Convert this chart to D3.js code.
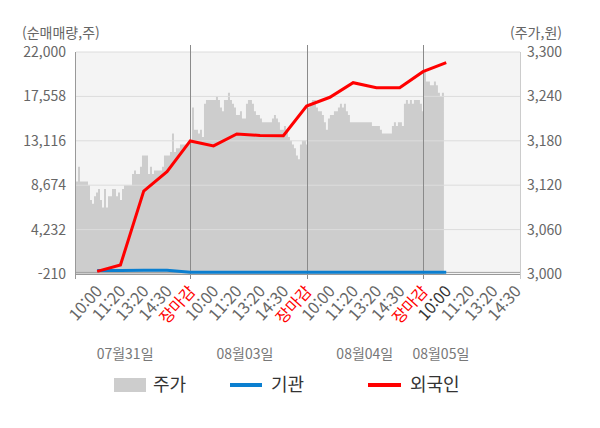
<!DOCTYPE html>
<html lang="ko">
<head>
  <meta charset="UTF-8">
  <title>순매매량 차트</title>
  <script src="https://d3js.org/d3.v7.min.js"></script>
  <style>
    body { margin: 0; background: #fff; }
    text { font-family: "Noto Sans CJK KR", "Noto Sans", sans-serif; }
    .axis-label { fill: #666; font-size: 14px; }
  </style>
</head>
<body>
  <svg width="600" height="428"></svg>

  <script>
    // x axis labels (one per slot)
    const xLabels = ['10:00','11:20','13:20','14:30','장마감',
                     '10:00','11:20','13:20','14:30','장마감',
                     '10:00','11:20','13:20','14:30','장마감',
                     '10:00','11:20','13:20','14:30'];
    const dates = ['07월31일', '08월03일', '08월04일', '08월05일'];
    const dateSlots = [1.2, 6.35, 11.5, 14.77];
    const daySeparators = [4, 9, 14];

    const leftTicks = [-210, 4232, 8674, 13116, 17558, 22000];
    const rightTicks = [3000, 3060, 3120, 3180, 3240, 3300];

    // 외국인 / 기관 net volume, one value per slot
    const foreign = [50, 690, 8090, 10020, 13100, 12600, 13800, 13650, 13620,
                     16600, 17470, 18930, 18430, 18430, 20030, 20930];
    const institution = [150, 150, 160, 160, -30, -30, -30, -30, -30,
                         -30, -30, -30, -30, -30, -30, -30];

    // 주가 (price), evenly sampled over each day
    const priceDay1 = [3125, 3145, 3125, 3125, 3125, 3125, 3120, 3100, 3095, 3105,
                       3110, 3115, 3100, 3090, 3115, 3090, 3105, 3105, 3115, 3115,
                       3105, 3110, 3100, 3115, 3120, 3120, 3120, 3120, 3135, 3140,
                       3135, 3135, 3145, 3160, 3160, 3160, 3135, 3145, 3135, 3140,
                       3140, 3140, 3140, 3145, 3160, 3160, 3160, 3165, 3190, 3165,
                       3170, 3170, 3175, 3175, 3175, 3175, 3180, 3180];
    const priceDay2 = [3225, 3195, 3195, 3190, 3195, 3185, 3230, 3235, 3235, 3235,
                       3235, 3235, 3240, 3235, 3225, 3220, 3235, 3235, 3245, 3235,
                       3230, 3225, 3215, 3215, 3220, 3210, 3210, 3230, 3235, 3235,
                       3230, 3220, 3215, 3215, 3210, 3205, 3205, 3205, 3205, 3205,
                       3210, 3215, 3210, 3205, 3195, 3195, 3200, 3195, 3185, 3180,
                       3175, 3170, 3160, 3155, 3175, 3180, 3180, 3175];
    const priceDay3 = [3225, 3230, 3235, 3235, 3225, 3220, 3220, 3215, 3205, 3195,
                       3210, 3215, 3215, 3220, 3220, 3225, 3230, 3225, 3230, 3220,
                       3215, 3205, 3205, 3205, 3205, 3205, 3205, 3205, 3205, 3205,
                       3205, 3205, 3200, 3200, 3200, 3200, 3195, 3190, 3190, 3190,
                       3190, 3190, 3200, 3205, 3200, 3205, 3205, 3200, 3230, 3235,
                       3230, 3235, 3230, 3235, 3235, 3235, 3230, 3220];
    const priceDay4 = [3275, 3260, 3260, 3255, 3255, 3260, 3255, 3245, 3240, 3245, 3230];

    const prices = priceDay1.concat(priceDay2, priceDay3, priceDay4);

    const svg = d3.select("svg");
    const plot = { left: 76, right: 520, top: 52, bottom: 274 };

    const x = d3.scaleLinear().domain([-0.91, 18.17]).range([plot.left, plot.right]);
    const yL = d3.scaleLinear().domain([-210, 22000]).range([plot.bottom, plot.top]);
    const yR = d3.scaleLinear().domain([3000, 3300]).range([plot.bottom, plot.top]);
    const priceSlot = d3.scaleLinear().domain([0, prices.length - 1]).range([-0.91, 14.9]);
    const fmt = d => d3.format(",")(d).replace("−", "-");

    // plot background
    svg.append("rect")
      .attr("x", plot.left).attr("y", plot.top)
      .attr("width", plot.right - plot.left).attr("height", plot.bottom - plot.top)
      .attr("fill", "#f4f4f4");

    // price area
    const area = d3.area()
      .curve(d3.curveStepAfter)
      .x((d, i) => x(priceSlot(i)))
      .y0(yR(3000))
      .y1(d => yR(d));
    svg.append("path")
      .datum(prices)
      .attr("d", area)
      .attr("fill", "#cdcdcd");

    // horizontal grid
    svg.append("g").selectAll("line")
      .data(leftTicks.slice(1))
      .join("line")
      .attr("x1", plot.left).attr("x2", plot.right)
      .attr("y1", d => yL(d)).attr("y2", d => yL(d))
      .attr("stroke", "#dcdcdc");

    // zero line
    svg.append("line")
      .attr("x1", plot.left).attr("x2", plot.right)
      .attr("y1", yL(0) + 0.5).attr("y2", yL(0) + 0.5)
      .attr("stroke", "#a0a0a0");

    // day separators
    svg.append("g").selectAll("line")
      .data(daySeparators)
      .join("line")
      .attr("x1", d => Math.round(x(d)) + 0.5).attr("x2", d => Math.round(x(d)) + 0.5)
      .attr("y1", 45).attr("y2", plot.bottom + 5)
      .attr("stroke", "#8a8a8a");

    // left / right axis lines
    svg.append("line")
      .attr("x1", plot.left - 0.5).attr("x2", plot.left - 0.5)
      .attr("y1", plot.top).attr("y2", plot.bottom + 5)
      .attr("stroke", "#999");
    svg.append("line")
      .attr("x1", plot.right + 0.5).attr("x2", plot.right + 0.5)
      .attr("y1", plot.top).attr("y2", plot.bottom + 5)
      .attr("stroke", "#ccc");
    svg.append("line")
      .attr("x1", plot.left).attr("x2", plot.right)
      .attr("y1", plot.bottom + 0.5).attr("y2", plot.bottom + 0.5)
      .attr("stroke", "#999");

    // lines
    const line = yScale => d3.line()
      .x((d, i) => x(i))
      .y(d => yScale(d));

    svg.append("path")
      .datum(institution)
      .attr("d", line(yL))
      .attr("fill", "none")
      .attr("stroke", "#0b7fd0")
      .attr("stroke-width", 3);

    svg.append("path")
      .datum(foreign)
      .attr("d", line(yL))
      .attr("fill", "none")
      .attr("stroke", "#ff0000")
      .attr("stroke-width", 3);

    // left axis labels
    svg.append("g").selectAll("text")
      .data(leftTicks)
      .join("text")
      .attr("class", "axis-label")
      .attr("x", 66)
      .attr("y", d => yL(d))
      .attr("dy", "0.35em")
      .attr("text-anchor", "end")
      .text(fmt);

    // right axis labels
    svg.append("g").selectAll("text")
      .data(rightTicks)
      .join("text")
      .attr("class", "axis-label")
      .attr("x", 527)
      .attr("y", d => yR(d))
      .attr("dy", "0.35em")
      .text(fmt);

    // axis titles
    svg.append("text").attr("class", "axis-label")
      .attr("x", 22).attr("y", 38).text("(순매매량,주)");
    svg.append("text").attr("class", "axis-label")
      .attr("x", 562).attr("y", 38).attr("text-anchor", "end").text("(주가,원)");

    // x labels
    svg.append("g").selectAll("text")
      .data(xLabels)
      .join("text")
      .attr("transform", (d, i) => `translate(${x(i) + 6},${plot.bottom + 18}) rotate(-48)`)
      .attr("text-anchor", "end")
      .attr("font-size", "16px")
      .attr("fill", (d, i) => d === '장마감' ? "#ff0000" : (i === 15 ? "#333" : "#666"))
      .text(d => d);

    // date labels
    svg.append("g").selectAll("text")
      .data(dates)
      .join("text")
      .attr("x", (d, i) => x(dateSlots[i]))
      .attr("y", 359)
      .attr("text-anchor", "middle")
      .attr("font-size", "14px")
      .attr("fill", "#777")
      .text(d => d);

    // legend
    const legend = svg.append("g").attr("transform", "translate(0,385)");
    legend.append("rect").attr("x", 114).attr("y", -7).attr("width", 32).attr("height", 14).attr("fill", "#cdcdcd");
    legend.append("text").attr("x", 153).attr("dy", "0.35em").attr("font-size", "18px").attr("fill", "#333").text("주가");
    legend.append("line").attr("x1", 230).attr("x2", 262).attr("stroke", "#0b7fd0").attr("stroke-width", 4);
    legend.append("text").attr("x", 271).attr("dy", "0.35em").attr("font-size", "18px").attr("fill", "#333").text("기관");
    legend.append("line").attr("x1", 368).attr("x2", 401).attr("stroke", "#ff0000").attr("stroke-width", 4);
    legend.append("text").attr("x", 410).attr("dy", "0.35em").attr("font-size", "18px").attr("fill", "#333").text("외국인");
  </script>
</body>
</html>
